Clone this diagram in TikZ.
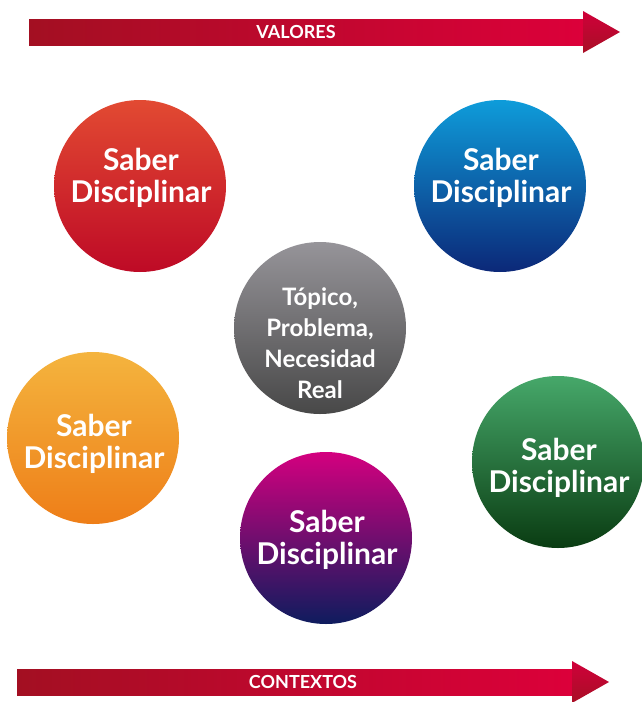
\documentclass[tikz,border=0pt]{standalone}
\usepackage{fontspec}
\setmainfont{Lato}

\definecolor{barraIzq}{HTML}{A30F22}
\definecolor{barraDer}{HTML}{DC003A}
\definecolor{puntaArr}{HTML}{D0003A}
\definecolor{puntaAba}{HTML}{A80F25}

\begin{document}
\begin{tikzpicture}[x=1pt,y=-1pt,
    saber/.style={circle,minimum size=172pt,inner sep=0pt},
    texto/.style={align=center,text=white,inner sep=0pt,
      font=\bfseries\fontsize{30}{32}\selectfont},
    barra/.style={left color=barraIzq,right color=barraDer},
    punta/.style={top color=puntaArr,bottom color=puntaAba},
    rotulo/.style={text=white,font=\bfseries\fontsize{18}{20}\selectfont}]
  \useasboundingbox (0,0) rectangle (642,702);

  % flecha superior
  \shade[barra] (29,19) rectangle (583,45);
  \shade[punta] (583,11) -- (620,32) -- (583,53) -- cycle;
  \node[rotulo] (valores) at (296,32) {VALORES};

  % circulos
  \node[saber,top color={rgb,255:red,226;green,74;blue,50},bottom color={rgb,255:red,190;green,10;blue,38}]
    (rojo) at (140,186) {};
  \node[saber,top color={rgb,255:red,14;green,156;blue,218},bottom color={rgb,255:red,12;green,40;blue,120}]
    (azul) at (500,186) {};
  \node[saber,top color={rgb,255:red,150;green,148;blue,153},bottom color={rgb,255:red,72;green,72;blue,72}]
    (topico) at (320,328) {};
  \node[saber,top color={rgb,255:red,244;green,180;blue,62},bottom color={rgb,255:red,238;green,126;blue,24}]
    (naranja) at (93,438) {};
  \node[saber,top color={rgb,255:red,212;green,0;blue,127},bottom color={rgb,255:red,14;green,28;blue,94}]
    (morado) at (326,538) {};
  \node[saber,top color={rgb,255:red,70;green,168;blue,106},bottom color={rgb,255:red,10;green,60;blue,18}]
    (verde) at (558,462) {};

  % textos
  \node[texto] (rojo-t) at (141,178) {Saber\\Disciplinar};
  \node[texto] (azul-t) at (501,178) {Saber\\Disciplinar};
  \node[texto,font=\bfseries\fontsize{24}{31}\selectfont]
    (topico-t) at (320,343) {Tópico,\\Problema,\\Necesidad\\Real};
  \node[texto] (naranja-t) at (94,444) {Saber\\Disciplinar};
  \node[texto] (morado-t) at (327,540) {Saber\\Disciplinar};
  \node[texto] (verde-t) at (559,468) {Saber\\Disciplinar};

  % flecha inferior
  \shade[barra] (17,669) rectangle (572,695);
  \shade[punta] (572,661) -- (609,682) -- (572,703) -- cycle;
  \node[rotulo] (contextos) at (303,682) {CONTEXTOS};
\end{tikzpicture}
\end{document}
